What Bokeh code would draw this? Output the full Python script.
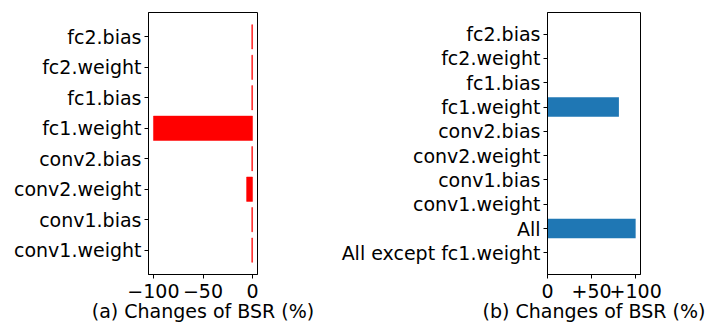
from bokeh.plotting import figure
from bokeh.models import FactorRange, Range1d, FixedTicker
from bokeh.layouts import row
from bokeh.embed import file_html
from bokeh.resources import INLINE

# ---- data ----
left_layers = ["conv1.weight", "conv1.bias", "conv2.weight", "conv2.bias",
               "fc1.weight", "fc1.bias", "fc2.weight", "fc2.bias"]
left_values = [-0.8, -0.8, -6, -0.8, -100, -0.8, -0.8, -0.8]
left_ticks = [-100, -50, 0]
left_tick_labels = ["\u2212100", "\u221250", "0"]
left_caption = "(a) Changes of BSR (%)"

right_layers = ["All except fc1.weight", "All", "conv1.weight", "conv1.bias",
                "conv2.weight", "conv2.bias", "fc1.weight", "fc1.bias",
                "fc2.weight", "fc2.bias"]
right_values = [0, 100, 0, 0, 0, 0, 81, 0, 0, 0]
right_ticks = [0, 50, 100]
right_tick_labels = ["0", "+50", "+100"]
right_caption = "(b) Changes of BSR (%)"

FONT = "DejaVu Sans"
FS = "19px"


def style(p, ticks, labels):
    p.outline_line_color = "black"
    p.outline_line_width = 1
    p.xgrid.visible = False
    p.ygrid.visible = False
    for ax in (p.xaxis[0], p.yaxis[0]):
        ax.axis_line_color = "black"
        ax.major_tick_line_color = "black"
        ax.major_tick_out = 4
        ax.major_tick_in = 0
        ax.minor_tick_line_color = None
        ax.major_label_text_font = FONT
        ax.major_label_text_font_size = FS
        ax.major_label_text_color = "black"
        ax.major_label_standoff = 3
        ax.axis_label_text_font = FONT
        ax.axis_label_text_font_size = FS
        ax.axis_label_text_font_style = "normal"
        ax.axis_label_text_color = "black"
    p.xaxis[0].ticker = FixedTicker(ticks=ticks)
    p.xaxis[0].major_label_overrides = {t: l for t, l in zip(ticks, labels)}
    p.xaxis[0].major_label_standoff = 5
    p.xaxis[0].axis_label_standoff = -1


p1 = figure(y_range=FactorRange(*left_layers, range_padding=0.075),
            x_range=Range1d(-105, 5),
            width=317, height=330,
            min_border_left=148, min_border_right=60,
            min_border_top=11, min_border_bottom=56,
            output_backend="svg", toolbar_location=None)
p1.hbar(y=left_layers, right=left_values, left=0, height=0.8,
        fill_color="#ff0000", line_color="#ff0000", line_width=0.5)
style(p1, left_ticks, left_tick_labels)
p1.xaxis[0].axis_label = left_caption

p2 = figure(y_range=FactorRange(*right_layers, range_padding=0.078),
            x_range=Range1d(0, 105.5),
            width=392, height=330,
            min_border_left=230, min_border_right=69,
            min_border_top=12, min_border_bottom=55,
            output_backend="svg", toolbar_location=None)
p2.hbar(y=right_layers, right=right_values, left=0, height=0.8,
        fill_color="#1f77b4", line_color=None)
style(p2, right_ticks, right_tick_labels)
p2.xaxis[0].axis_label = right_caption

layout = row(p1, p2)
open("out.html", "w").write(file_html(layout, INLINE))
